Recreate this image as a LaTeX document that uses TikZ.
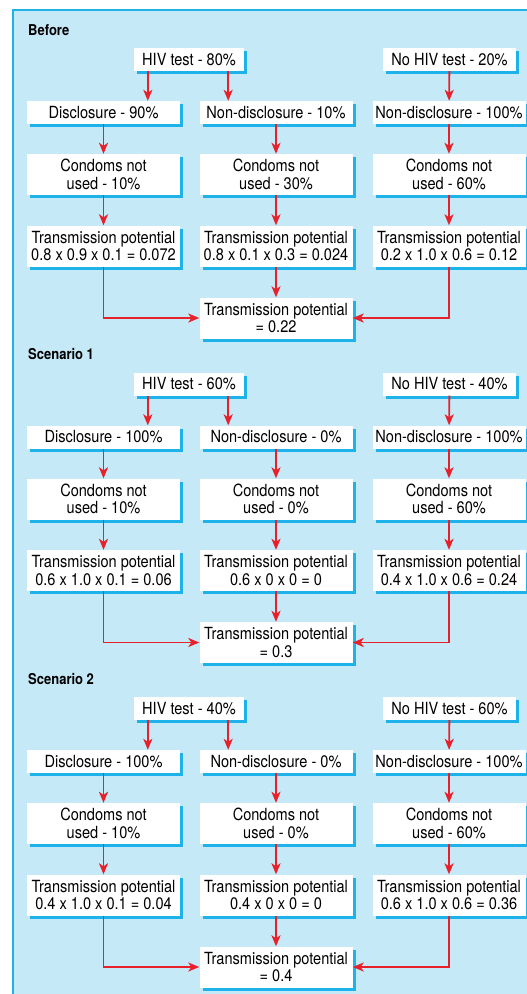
\documentclass[tikz,border=0pt]{standalone}
\usepackage{fontspec}
\setmainfont[FakeStretch=0.87]{TeX Gyre Heros}
\usetikzlibrary{arrows.meta,shadows}

\definecolor{panelblue}{HTML}{C6E9F8}
\definecolor{edgecyan}{HTML}{1EB2EA}
\definecolor{arrowred}{HTML}{E8202A}

\tikzset{
	box/.style={fill=white, inner sep=0pt, align=center,
		font=\fontsize{16.8}{17.5}\selectfont,
		drop shadow={shadow xshift=3bp, shadow yshift=-3bp, fill=edgecyan, opacity=1}},
	one/.style={box, minimum height=23bp},
	two/.style={box, minimum height=41bp},
	col/.style={minimum width=153bp},
	heading/.style={anchor=west, inner sep=0pt, font=\bfseries\fontsize{15}{15}\selectfont},
	flow/.style={color=arrowred, line width=1.8bp, -{Stealth[length=11bp,width=9bp,inset=3bp]}},
	elbow/.style={to path={|- (\tikztotarget)}}
}

\begin{document}
\begin{tikzpicture}[x=1bp,y=-1bp]
	\useasboundingbox (0,0) rectangle (527,994);
	\fill[panelblue] (13,10) rectangle (527,994);
	\draw[edgecyan, line width=1.2bp] (13,994) -- (13,10) -- (527,10);

	% Before
	\begin{scope}
	\node[heading] (b-head) at (28,30) {Before};
	\node[one, minimum width=110bp] (b-hiv) at (189,59.5) {HIV test - 80\%};
	\node[one, minimum width=133bp] (b-nohiv) at (449.5,59.5) {No HIV test - 20\%};
	\node[one, col] (b-d) at (103.5,112.5) {Disclosure - 90\%};
	\node[one, col] (b-nd) at (276,112.5) {Non-disclosure - 10\%};
	\node[one, col] (b-nd2) at (449,112.5) {Non-disclosure - 100\%};
	\node[two, col] (b-c1) at (103.5,174.5) {Condoms not\\used - 10\%};
	\node[two, col] (b-c2) at (276,174.5) {Condoms not\\used - 30\%};
	\node[two, col] (b-c3) at (449,174.5) {Condoms not\\used - 60\%};
	\node[two, col] (b-t1) at (103.5,246) {Transmission potential\\0.8 x 0.9 x 0.1 = 0.072};
	\node[two, col] (b-t2) at (276,246) {Transmission potential\\0.8 x 0.1 x 0.3 = 0.024};
	\node[two, col] (b-t3) at (449,246) {Transmission potential\\0.2 x 1.0 x 0.6 = 0.12};
	\node[two, col] (b-f) at (276,318) {Transmission potential\\= 0.22};
	\coordinate (b-hl) at ([xshift=14bp]b-hiv.south west);
	\coordinate (b-hr) at ([xshift=-16bp]b-hiv.south east);
	\path[flow]
	(b-hl)		edge (b-hl |- b-d.north)
	(b-hr)		edge (b-hr |- b-nd.north)
	(b-nohiv)	edge (b-nd2)
	(b-d)		edge (b-c1)
	(b-nd)		edge (b-c2)
	(b-nd2)		edge (b-c3)
	(b-c1)		edge (b-t1)
	(b-c2)		edge (b-t2)
	(b-c3)		edge (b-t3)
	(b-t1)		edge[elbow] (b-f)
	(b-t2)		edge (b-f)
	(b-t3)		edge[elbow] (b-f);
	\end{scope}

	% Scenario 1
	\begin{scope}[shift={(0,324.5)}]
	\node[heading] (s1-head) at (28,30) {Scenario 1};
	\node[one, minimum width=110bp] (s1-hiv) at (189,59.5) {HIV test - 60\%};
	\node[one, minimum width=133bp] (s1-nohiv) at (449.5,59.5) {No HIV test - 40\%};
	\node[one, col] (s1-d) at (103.5,112.5) {Disclosure - 100\%};
	\node[one, col] (s1-nd) at (276,112.5) {Non-disclosure - 0\%};
	\node[one, col] (s1-nd2) at (449,112.5) {Non-disclosure - 100\%};
	\node[two, col] (s1-c1) at (103.5,174.5) {Condoms not\\used - 10\%};
	\node[two, col] (s1-c2) at (276,174.5) {Condoms not\\used - 0\%};
	\node[two, col] (s1-c3) at (449,174.5) {Condoms not\\used - 60\%};
	\node[two, col] (s1-t1) at (103.5,246) {Transmission potential\\0.6 x 1.0 x 0.1 = 0.06};
	\node[two, col] (s1-t2) at (276,246) {Transmission potential\\0.6 x 0 x 0 = 0};
	\node[two, col] (s1-t3) at (449,246) {Transmission potential\\0.4 x 1.0 x 0.6 = 0.24};
	\node[two, col] (s1-f) at (276,318) {Transmission potential\\= 0.3};
	\coordinate (s1-hl) at ([xshift=14bp]s1-hiv.south west);
	\coordinate (s1-hr) at ([xshift=-16bp]s1-hiv.south east);
	\path[flow]
	(s1-hl)		edge (s1-hl |- s1-d.north)
	(s1-hr)		edge (s1-hr |- s1-nd.north)
	(s1-nohiv)	edge (s1-nd2)
	(s1-d)		edge (s1-c1)
	(s1-nd)		edge (s1-c2)
	(s1-nd2)	edge (s1-c3)
	(s1-c1)		edge (s1-t1)
	(s1-c2)		edge (s1-t2)
	(s1-c3)		edge (s1-t3)
	(s1-t1)		edge[elbow] (s1-f)
	(s1-t2)		edge (s1-f)
	(s1-t3)		edge[elbow] (s1-f);
	\end{scope}

	% Scenario 2
	\begin{scope}[shift={(0,649)}]
	\node[heading] (s2-head) at (28,30) {Scenario 2};
	\node[one, minimum width=110bp] (s2-hiv) at (189,59.5) {HIV test - 40\%};
	\node[one, minimum width=133bp] (s2-nohiv) at (449.5,59.5) {No HIV test - 60\%};
	\node[one, col] (s2-d) at (103.5,112.5) {Disclosure - 100\%};
	\node[one, col] (s2-nd) at (276,112.5) {Non-disclosure - 0\%};
	\node[one, col] (s2-nd2) at (449,112.5) {Non-disclosure - 100\%};
	\node[two, col] (s2-c1) at (103.5,174.5) {Condoms not\\used - 10\%};
	\node[two, col] (s2-c2) at (276,174.5) {Condoms not\\used - 0\%};
	\node[two, col] (s2-c3) at (449,174.5) {Condoms not\\used - 60\%};
	\node[two, col] (s2-t1) at (103.5,246) {Transmission potential\\0.4 x 1.0 x 0.1 = 0.04};
	\node[two, col] (s2-t2) at (276,246) {Transmission potential\\0.4 x 0 x 0 = 0};
	\node[two, col] (s2-t3) at (449,246) {Transmission potential\\0.6 x 1.0 x 0.6 = 0.36};
	\node[two, col] (s2-f) at (276,318) {Transmission potential\\= 0.4};
	\coordinate (s2-hl) at ([xshift=14bp]s2-hiv.south west);
	\coordinate (s2-hr) at ([xshift=-16bp]s2-hiv.south east);
	\path[flow]
	(s2-hl)		edge (s2-hl |- s2-d.north)
	(s2-hr)		edge (s2-hr |- s2-nd.north)
	(s2-nohiv)	edge (s2-nd2)
	(s2-d)		edge (s2-c1)
	(s2-nd)		edge (s2-c2)
	(s2-nd2)	edge (s2-c3)
	(s2-c1)		edge (s2-t1)
	(s2-c2)		edge (s2-t2)
	(s2-c3)		edge (s2-t3)
	(s2-t1)		edge[elbow] (s2-f)
	(s2-t2)		edge (s2-f)
	(s2-t3)		edge[elbow] (s2-f);
	\end{scope}
\end{tikzpicture}
\end{document}
